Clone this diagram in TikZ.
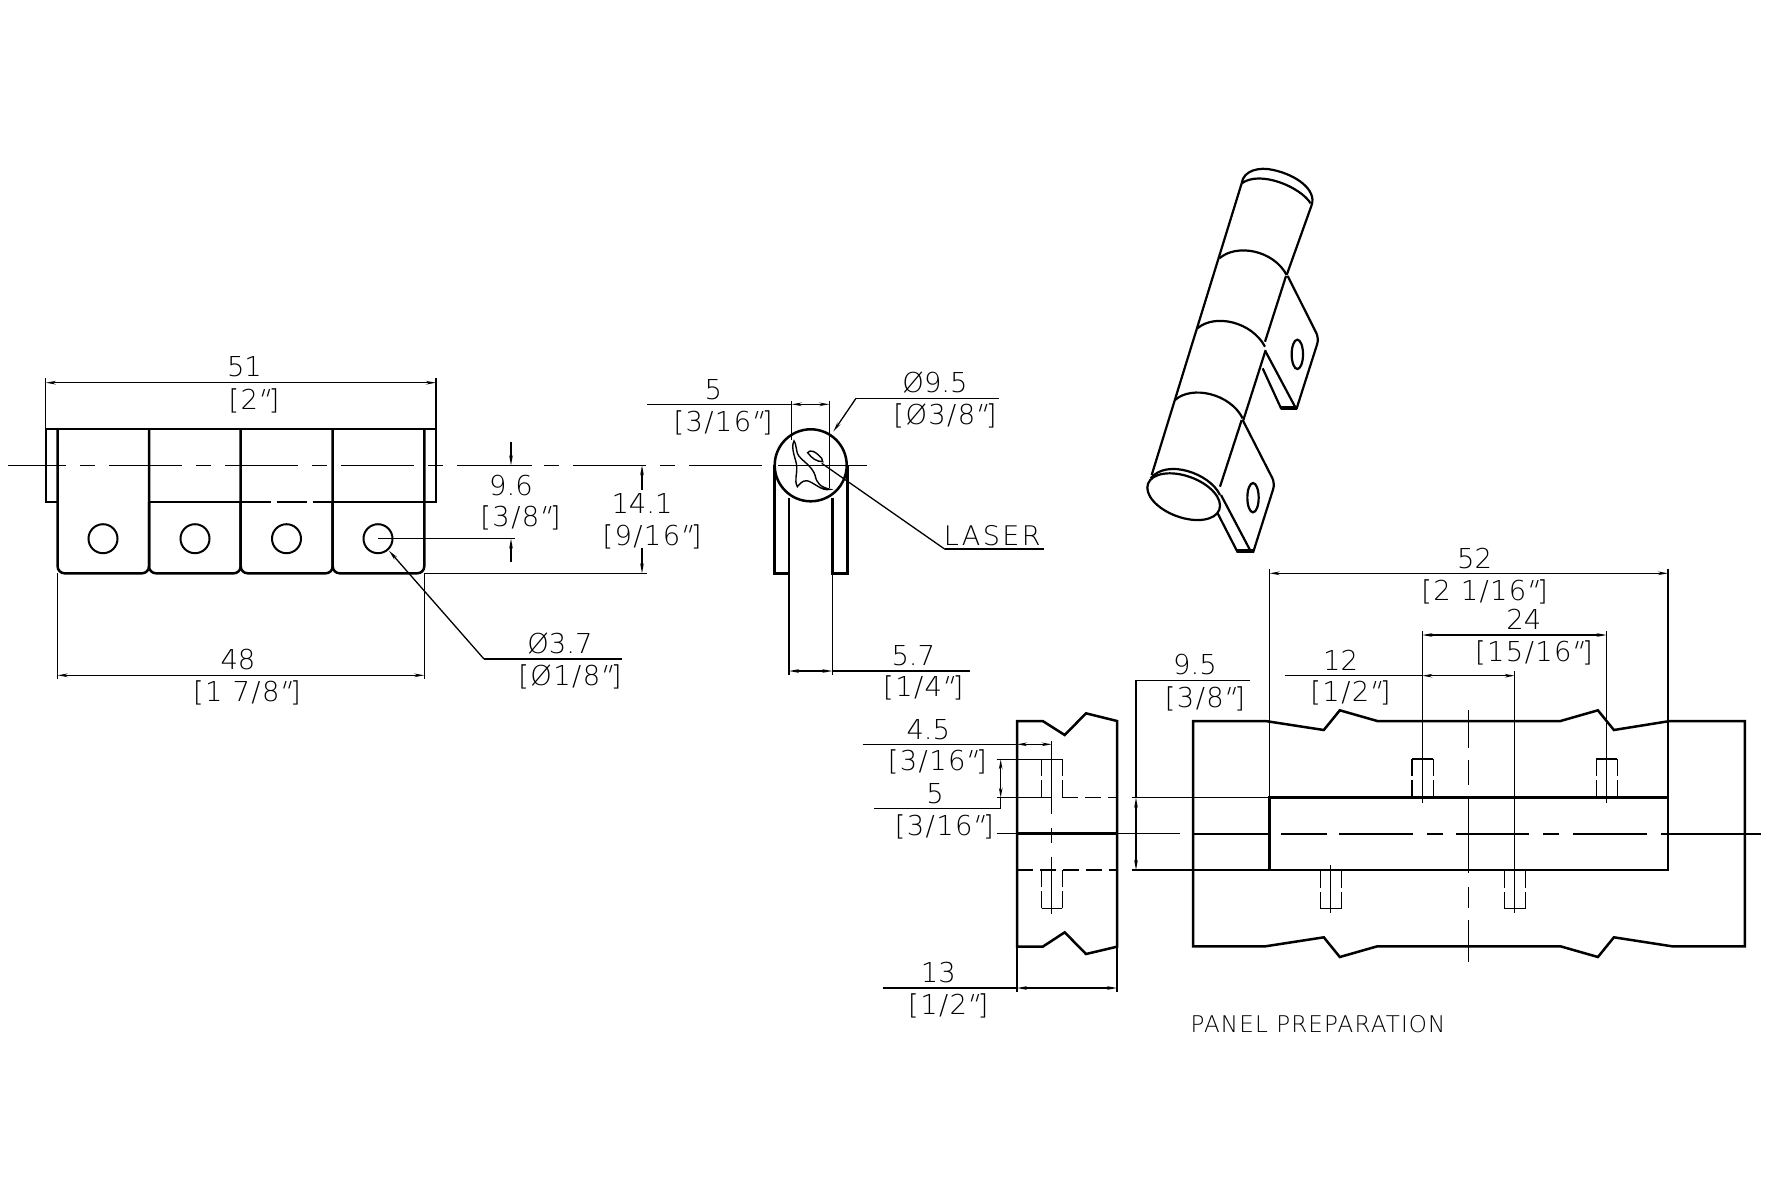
\documentclass[tikz,border=0pt]{standalone}
\usepackage{fontspec}
\setmainfont{DejaVu Sans}[UprightFont={* ExtraLight}]
\newfontfamily\slantfont{DejaVu Sans}[UprightFont={* ExtraLight},FakeSlant=0.3]
\newfontfamily\spacedfont{DejaVu Sans}[UprightFont={* ExtraLight},LetterSpace=5]
\newfontfamily\widefont{DejaVu Sans}[UprightFont={* ExtraLight},LetterSpace=9]
\newcommand{\inchmark}{\kern-1.6pt{\slantfont "}\kern0.6pt}
\usetikzlibrary{arrows.meta}
\tikzset{
 x=0.5pt,y=-0.5pt,
 obj/.style={line width=1.25pt,line join=miter},
 thn/.style={line width=0.65pt},
 dimline/.style={thn,{Stealth[length=5pt,width=1.8pt]}-{Stealth[length=5pt,width=1.8pt]}},
 leadarrow/.style={thn,-{Stealth[length=5pt,width=1.8pt]}},
 txt/.style={inner sep=0pt,text height=10pt,text depth=0pt,font=\fontsize{13.7}{14}\selectfont},
 txtb/.style={txt,font=\spacedfont\fontsize{13.7}{14}\selectfont},
 centreline/.style={thn,dash pattern=on 36.5pt off 7pt on 7.5pt off 7pt},
 holeside/.style={thn,dash pattern=on 8.5pt off 2pt},
 hidden/.style={thn,dash pattern=on 8pt off 3.5pt},
 iso/.style={shift={(#1)},x=0.16667pt,y=-0.16667pt},
}
\begin{document}
\begin{tikzpicture}
\useasboundingbox (0,0) rectangle (1767,1200);
\fill[white] (0,0) rectangle (1767,1200);
% ---- front view
\draw[obj] (57.6,502) -- (45.8,502) -- (45.8,429) -- (436,429) -- (436,502) -- (424.3,502);
\draw[obj] (149,502) -- (240.7,502);
\draw[thn,dash pattern=on 15pt off 3pt] (240.7,502) -- (332.7,502);
\draw[obj] (332.7,502) -- (424.3,502);
\draw[obj,rounded corners=3.5pt] (57.6,429) -- (57.6,573.3) -- (149,573.3) -- (149,429);
\draw[obj,rounded corners=3.5pt] (149,502) -- (149,573.3) -- (240.7,573.3) -- (240.7,429);
\draw[obj,rounded corners=3.5pt] (240.7,502) -- (240.7,573.3) -- (332.7,573.3) -- (332.7,429);
\draw[obj,rounded corners=3.5pt] (332.7,502) -- (332.7,573.3) -- (424.3,573.3) -- (424.3,429);
\foreach \cx in {103,195,286.5,378} \draw[obj,line width=1pt] (\cx,538.7) circle (14.5);
\draw[centreline,dash phase=7.35pt] (8,465.3) -- (763,465.3);
\draw[thn] (486,465.3) -- (532,465.3);
\draw[thn] (778,465.3) -- (866.7,465.3);
% 51
\draw[thn] (45.8,429) -- (45.8,378);
\draw[thn] (436,429) -- (436,378);
\draw[dimline] (45.8,382.7) -- (436,382.7);
\node[txt] (t51) at (244.5,366.7) {51};
\node[txtb] (t51b) at (254,399) {[2\inchmark]};
% 48
\draw[thn] (57.6,573) -- (57.6,679);
\draw[thn] (424.3,573) -- (424.3,679);
\draw[dimline] (57.6,675.3) -- (424.3,675.3);
\node[txt] (t48) at (238,659) {48};
\node[txtb] (t48b) at (247,691) {[1 7/8\inchmark]};
% 9.6
\draw[thn] (378,538.7) -- (515,538.7);
\draw[leadarrow] (511,441.7) -- (511,465.3);
\draw[leadarrow] (511,562) -- (511,538.7);
\node[txt] (t96) at (511,485.7) {9.6};
\node[txtb] (t96b) at (520.5,516.7) {[3/8\inchmark]};
% 14.1
\draw[thn] (424.3,573.3) -- (646.5,573.3);
\draw[leadarrow] (642,490) -- (642,465.3);
\draw[leadarrow] (642,548) -- (642,573.3);
\node[txt] (t141) at (642,503) {14.1};
\node[txtb] (t141b) at (652,535) {[9/16\inchmark]};
% dia 3.7
\draw[leadarrow] (484,659) -- (389,550.7);
\draw[thn] (484,659) -- (621.5,659);
\node[txt] (t37) at (560,643) {Ø3.7};
\node[txtb] (t37b) at (570,675) {[Ø1/8\inchmark]};
% ---- side view
\draw[obj] (774.3,465.3) -- (774.3,573.3) -- (789,573.3) -- (789,498);
\draw[obj] (847.3,465.3) -- (847.3,573.3) -- (832.3,573.3) -- (832.3,498);
\draw[obj] (810.7,465.3) circle (36);
\begin{scope}[iso={640,360}]
\draw[line width=0.7pt] (462,243) .. controls (450,265) and (470,300) .. (470,320) .. controls (472,345) and (462,360) .. (472,380) .. controls (480,372) and (485,362) .. (500,362) .. controls (520,365) and (545,395) .. (570,388) .. controls (540,380) and (530,370) .. (525,345) .. controls (515,315) and (480,300) .. (472,280) .. controls (468,265) and (468,250) .. (462,243) -- cycle;
\draw[line width=0.7pt] (503,278) .. controls (510,268) and (525,272) .. (545,295) -- (548,305) .. controls (530,305) and (515,295) .. (503,278) -- cycle;
\end{scope}
% 5
\draw[thn] (791.7,400.7) -- (791.7,440);
\draw[thn] (829.3,400.7) -- (829.3,488);
\draw[thn] (647.3,404.3) -- (791.7,404.3);
\draw[dimline] (791.7,404.3) -- (829.3,404.3);
\node[txt] (t5) at (713.3,389) {5};
\node[txtb] (t5b) at (723,421) {[3/16\inchmark]};
% dia 9.5
\draw[leadarrow] (856,398.3) -- (833.3,431.7);
\draw[thn] (856,398.3) -- (999.3,398.3);
\node[txt] (t95d) at (935,382.7) {Ø9.5};
\node[txtb] (t95db) at (945,414) {[Ø3/8\inchmark]};
% laser
\draw[thn] (821.7,463.3) -- (945,549.3);
\draw[thn,line width=1pt] (945,549.3) -- (1044,549.3);
\node[txt,font=\widefont\fontsize{13.5}{14}\selectfont,text height=9.5pt] (tlaser) at (992.3,535.7) {LASER};
% 5.7
\draw[thn] (789,573) -- (789,675);
\draw[thn] (832.3,573) -- (832.3,675);
\draw[dimline] (789,671) -- (832.3,671);
\draw[thn] (832.3,671) -- (970,671);
\node[txt] (t57) at (913.3,655) {5.7};
\node[txtb] (t57b) at (923.3,686.7) {[1/4\inchmark]};
% ---- isometric view
\begin{scope}[iso={1120,150},line width=1.1pt]
\draw (365,100) -- (95,975);
\draw (575,165) -- (500,375);
\draw (498,378) -- (435,575);
\draw (437,600) -- (370,810);
\draw (365,810) -- (300,1010);
\draw (365,100) .. controls (370,60) and (420,50) .. (460,60) .. controls (530,75) and (590,120) .. (575,165);
\draw (365,100) .. controls (420,60) and (540,110) .. (572,160);
\draw (298,325) .. controls (350,280) and (460,300) .. (500,375);
\draw (232,535) .. controls (285,490) and (395,515) .. (435,590);
\draw (165,750) .. controls (215,705) and (330,730) .. (368,805);
\draw (92,985) .. controls (140,925) and (270,970) .. (300,1035);
\draw[rotate around={-20:(191,1040)}] (191,1040) ellipse (113.8 and 62);
\draw (503,378) [rounded corners=3pt] -- (597,565) [sharp corners] -- (530,775) -- (483,775) -- (428,655);
\draw (437,605) -- (525,770);
\draw[line width=2pt] (483,773) -- (530,773);
\draw (532,613) ellipse (17 and 44);
\draw (368,810) [rounded corners=3pt] -- (465,1000) [sharp corners] -- (400,1205) -- (352,1205) -- (293,1090);
\draw (303,1035) -- (390,1200);
\draw[line width=2pt] (352,1204) -- (400,1204);
\draw (399,1043) ellipse (17 and 44);
\end{scope}
% ---- panel end view
\draw[obj] (1017,946.7) -- (1017,721) -- (1042.7,721) -- (1064.7,735) -- (1086,713.3) -- (1117,721) -- (1117,946.7) -- (1086,954) -- (1064.7,932.3) -- (1042.7,946.7) -- cycle;
\draw[obj] (1017,833.7) -- (1117,833.7);
\draw[thn] (996.7,833.7) -- (1017,833.7);
\draw[thn] (1117,833.7) -- (1180,833.7);
\draw[thn] (996.7,797.7) -- (1051.7,797.7);
\draw[hidden] (1062.3,797.7) -- (1117,797.7);
\draw[hidden] (1017,870) -- (1117,870);
\draw[thn] (996.7,759.3) -- (1062.3,759.3);
\foreach \hx in {1041.7,1062.3} {
 \draw[holeside] (\hx,759.3) -- (\hx,797.7);
 \draw[holeside] (\hx,908.3) -- (\hx,870);
}
\draw[thn] (1041.7,908.3) -- (1062.3,908.3);
\draw[thn] (1051.7,740.7) -- (1051.7,814);
\draw[thn] (1051.7,828) -- (1051.7,842.7);
\draw[thn] (1051.7,856.7) -- (1051.7,914);
% 4.5
\draw[thn] (862.7,744.3) -- (1017,744.3);
\draw[dimline] (1017,744.3) -- (1051.7,744.3);
\node[txt] (t45) at (928.3,729) {4.5};
\node[txtb] (t45b) at (937.3,760.7) {[3/16\inchmark]};
% 5 (panel)
\draw[dimline] (1000.7,759.3) -- (1000.7,797.7);
\draw[thn] (1000.7,797.7) -- (1000.7,808.3) -- (874.3,808.3);
\node[txt] (t5p) at (935,793.3) {5};
\node[txtb] (t5pb) at (944.3,825) {[3/16\inchmark]};
% 13
\draw[thn] (1017,946) -- (1017,991.7);
\draw[thn] (1117,946) -- (1117,991.7);
\draw[thn] (882.7,988) -- (1017,988);
\draw[dimline] (1017,988) -- (1117,988);
\node[txt] (t13) at (938.3,972.3) {13};
\node[txtb] (t13b) at (948.3,1004) {[1/2\inchmark]};
% 9.5
\draw[thn] (1131.7,797.7) -- (1269.6,797.7);
\draw[thn] (1131.7,870) -- (1269.6,870);
\draw[dimline] (1136,797.7) -- (1136,870);
\draw[thn] (1136,797.7) -- (1136,680.5) -- (1250,680.5);
\node[txt] (t95) at (1195,664.5) {9.5};
\node[txtb] (t95b) at (1205,697) {[3/8\inchmark]};
% ---- panel front view
\draw[obj] (1193,721) -- (1265.4,721) -- (1323.8,730) -- (1339.8,710.3) -- (1377.3,721) -- (1560.5,721) -- (1597.9,710.3) -- (1613.9,730) -- (1670,721) -- (1744.8,721) -- (1744.8,946.3) -- (1672,946.3) -- (1613.9,937.3) -- (1597.9,957) -- (1560.5,946.3) -- (1377.3,946.3) -- (1339.8,957) -- (1323.8,937.3) -- (1265.4,946.3) -- (1193,946.3) -- cycle;
\draw[obj] (1269.6,797.7) rectangle (1668,870);
\draw[obj] (1193,834) -- (1269.6,834);
\draw[obj] (1668,834) -- (1744.8,834);
\draw[thn] (1744.8,834) -- (1760.8,834);
\foreach \da/\db in {1280.7/1326.5,1339/1413,1426.5/1443,1456/1529,1543/1559,1572.7/1647,1660.5/1668}
 \draw[thn] (\da,834) -- (\db,834);
\draw[thn] (1468.5,710) -- (1468.5,748);
\draw[thn] (1468.5,760) -- (1468.5,785);
\draw[thn] (1468.5,798) -- (1468.5,873);
\draw[thn] (1468.5,887) -- (1468.5,908);
\draw[thn] (1468.5,920) -- (1468.5,962);
% holes
\foreach \hx in {1412,1433.4,1596.3,1617.3} \draw[holeside] (\hx,759) -- (\hx,797.7);
\foreach \hx in {1320.4,1341.8,1504.4,1525.3} \draw[holeside] (\hx,908.7) -- (\hx,870);
\draw[thn] (1412,759) -- (1433.4,759);
\draw[thn] (1596.3,759) -- (1617.3,759);
\draw[thn] (1320.4,908.7) -- (1341.8,908.7);
\draw[thn] (1504.4,908.7) -- (1525.3,908.7);
\draw[thn] (1330.7,865) -- (1330.7,913);
% 52
\draw[thn] (1269.6,569.3) -- (1269.6,797.7);
\draw[thn] (1668,569.3) -- (1668,797.7);
\draw[dimline] (1269.6,573.3) -- (1668,573.3);
\node[txt] (t52) at (1474.6,558) {52};
\node[txtb] (t52b) at (1484.5,590) {[2 1/16\inchmark]};
% 24
\draw[thn] (1422.3,630.7) -- (1422.3,803.3);
\draw[thn] (1606.6,630.7) -- (1606.6,803.3);
\draw[dimline] (1422.3,635) -- (1606.6,635);
\node[txt] (t24) at (1523.8,619.3) {24};
\node[txtb] (t24b) at (1534,651) {[15/16\inchmark]};
% 12
\draw[thn] (1514.7,671) -- (1514.7,913.3);
\draw[thn] (1284.5,675.7) -- (1422.3,675.7);
\draw[dimline] (1422.3,675.7) -- (1514.7,675.7);
\node[txt] (t12) at (1340.6,660) {12};
\node[txtb] (t12b) at (1350.5,691.7) {[1/2\inchmark]};
\node[txt,font=\spacedfont\fontsize{11.5}{12}\selectfont,text height=8pt] (tpanel) at (1318,1024) {PANEL PREPARATION};
\end{tikzpicture}
\end{document}
